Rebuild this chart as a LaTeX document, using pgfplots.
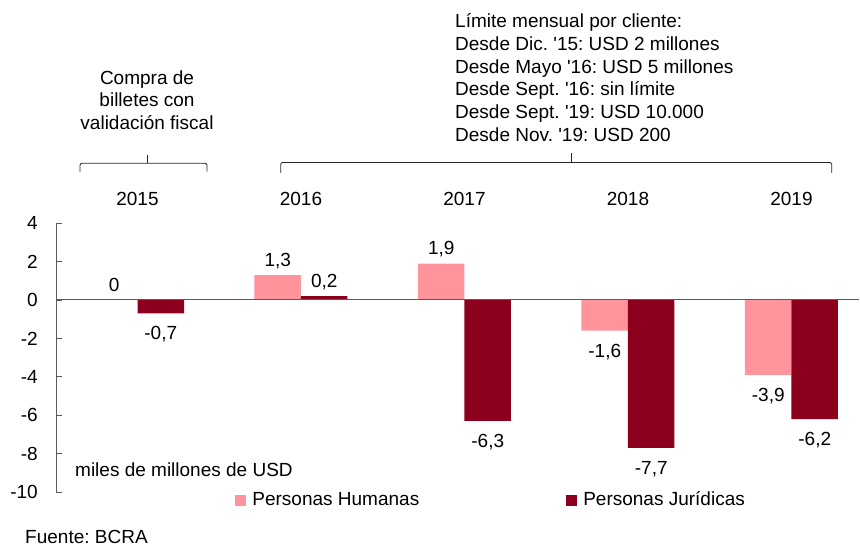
\documentclass[border=0pt]{standalone}
\usepackage{fontspec}
\setmainfont{Liberation Sans}[Ligatures=TeXOff]
\usepackage{pgfplots}
\pgfplotsset{compat=1.18}
\definecolor{pinkbar}{RGB}{255,148,156}
\definecolor{darkbar}{RGB}{140,0,30}
\definecolor{axgray}{RGB}{90,90,90}
\frenchspacing
\begin{document}
\fontsize{19}{22.8}\selectfont
\begin{tikzpicture}[x=1pt,y=1pt]
\begin{axis}[
  at={(56pt,56pt)}, anchor=south west,
  scale only axis, width=803pt, height=268.8pt,
  xmin=-0.4985, xmax=4.413, ymin=-10, ymax=4,
  ybar=0pt, bar width=46.5pt,
  axis y line*=left, axis x line*=top,
  x axis line style={draw=none},
  y axis line style={draw=axgray, line width=0.8pt},
  xtick={0,1,2,3,4}, xticklabels={2015,2016,2017,2018,2019},
  xtick style={draw=none},
  xticklabel style={yshift=11.4pt},
  ytick={-10,-8,-6,-4,-2,0,2,4},
  ytick style={draw=axgray, line width=0.8pt},
  tick align=inside, major tick length=6pt,
  yticklabel style={xshift=-11.7pt},
  /pgf/number format/assume math mode=true,
  /pgf/number format/use comma,
  /pgf/number format/fixed,
  /pgf/number format/precision=1,
  nodes near coords,
  nodes near coords style={inner sep=8.5pt, text height=17.6pt, text depth=0pt},
  legend style={at={(0.2232,-0.0298)}, anchor=west, draw=none, fill=none,
    inner sep=0pt,
    /tikz/every odd column/.append style={column sep=4pt},
    /tikz/every even column/.append style={column sep=145pt}},
  legend columns=2,
]
\addplot[fill=pinkbar, draw=none,
  legend image code/.code={\fill[pinkbar] (0pt,-5.5pt) rectangle (11pt,5.5pt);}]
  coordinates {(0,0) (1,1.3) (2,1.9) (3,-1.6) (4,-3.9)};
\addlegendentry{Personas Humanas}
\addplot[fill=darkbar, draw=none,
  legend image code/.code={\fill[darkbar] (0pt,-5.5pt) rectangle (11pt,5.5pt);}]
  coordinates {(0,-0.7) (1,0.2) (2,-6.3) (3,-7.7) (4,-6.2)};
\addlegendentry{Personas Jurídicas}
\draw[axgray, line width=1pt] (axis cs:-0.4985,0) -- (axis cs:4.413,0);
\end{axis}
% brackets
\draw[black!85, line width=0.8pt, rounded corners=2pt] (80pt,376.3pt) -- (80pt,384.7pt) -- (207pt,384.7pt) -- (207pt,376.3pt);
\draw[black!85, line width=0.8pt] (147.7pt,384.7pt) -- (147.7pt,393pt);
\draw[black!85, line width=0.8pt, rounded corners=2pt] (280.7pt,375pt) -- (280.7pt,385.5pt) -- (831.7pt,385.5pt) -- (831.7pt,375pt);
\draw[black!85, line width=0.8pt] (571.7pt,385.5pt) -- (571.7pt,395.3pt);
% left annotation
\node[anchor=base, inner sep=0pt] at (147pt,463.5pt) {Compra de};
\node[anchor=base, inner sep=0pt] at (147pt,441pt) {billetes con};
\node[anchor=base, inner sep=0pt] at (147pt,418.5pt) {validación fiscal};
% right annotation
\node[anchor=base west, inner sep=0pt] at (455pt,520.7pt) {Límite mensual por cliente:};
\node[anchor=base west, inner sep=0pt] at (455pt,497.8pt) {Desde Dic. '15: USD 2 millones};
\node[anchor=base west, inner sep=0pt] at (455pt,474.9pt) {Desde Mayo '16: USD 5 millones};
\node[anchor=base west, inner sep=0pt] at (455pt,452pt) {Desde Sept. '16: sin límite};
\node[anchor=base west, inner sep=0pt] at (455pt,429.1pt) {Desde Sept. '19: USD 10.000};
\node[anchor=base west, inner sep=0pt] at (455pt,406.2pt) {Desde Nov. '19: USD 200};
% unit and source
\node[anchor=base west, inner sep=0pt] at (75pt,71pt) {miles de millones de USD};
\node[anchor=base west, inner sep=0pt] at (25pt,4pt) {Fuente: BCRA};
\pgfresetboundingbox
\path[use as bounding box] (0pt,0pt) rectangle (860pt,548pt);
\end{tikzpicture}
\end{document}
